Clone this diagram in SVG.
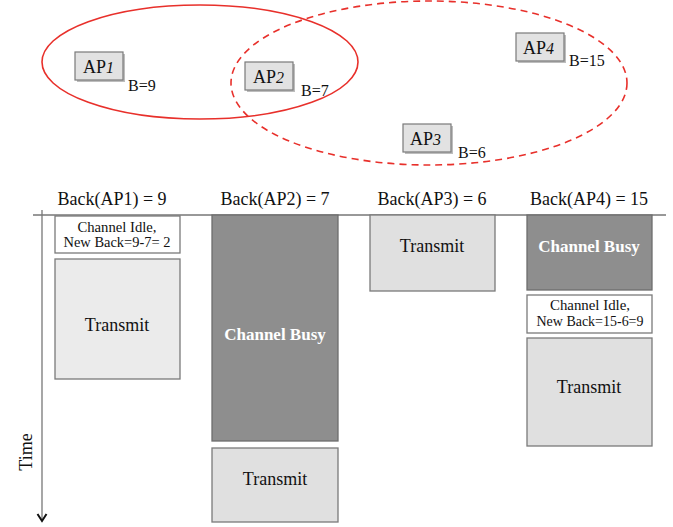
<svg xmlns="http://www.w3.org/2000/svg" width="673" height="527" viewBox="0 0 673 527">
<style>
text{font-family:"Liberation Serif","Times New Roman",serif;fill:#111}
.ap rect.b{fill:#e2e2e2;stroke:#7a7a7a;stroke-width:1.2}
.ap rect.s{fill:#bdbdbd}
.apt{font-size:18px}
.apt tspan{font-style:italic;font-size:16px}
.bl{font-size:16px}
.hd{font-size:18px;text-anchor:middle}
.tx{fill:#e0e0e0;stroke:#7a7a7a;stroke-width:1.3}
.tx1{fill:#ebebeb;stroke:#7a7a7a;stroke-width:1.3}
.busy{fill:#8e8e8e;stroke:#6e6e6e;stroke-width:1.3}
.idle{fill:#fff;stroke:#7a7a7a;stroke-width:1.3}
.lt{font-size:18px;text-anchor:middle}
.bt{font-size:17px;font-weight:bold;text-anchor:middle;fill:#fff}
.it{font-size:14px;text-anchor:middle}
</style>
<g id="ranges">
<ellipse cx="200" cy="62" rx="158" ry="57" fill="none" stroke="#e8302b" stroke-width="1.6"/>
<ellipse cx="429" cy="83" rx="198" ry="82" fill="none" stroke="#e8302b" stroke-width="1.6" stroke-dasharray="7,5"/>
</g>
<g id="ap1" class="ap"><rect class="s" x="77" y="54" width="48" height="28"/><rect class="b" x="75" y="52" width="48" height="28"/><text class="apt" x="83" y="73">AP<tspan>1</tspan></text><text class="bl" x="128" y="91">B=9</text></g>
<g id="ap2" class="ap"><rect class="s" x="247" y="64" width="48" height="28"/><rect class="b" x="245" y="62" width="48" height="28"/><text class="apt" x="253" y="83">AP<tspan>2</tspan></text><text class="bl" x="301" y="96">B=7</text></g>
<g id="ap3" class="ap"><rect class="s" x="405" y="126" width="48" height="28"/><rect class="b" x="403" y="124" width="48" height="28"/><text class="apt" x="410" y="145">AP<tspan>3</tspan></text><text class="bl" x="458" y="158">B=6</text></g>
<g id="ap4" class="ap"><rect class="s" x="518" y="35" width="48" height="28"/><rect class="b" x="516" y="33" width="48" height="28"/><text class="apt" x="523" y="54">AP<tspan>4</tspan></text><text class="bl" x="569" y="66">B=15</text></g>
<g id="headers">
<text class="hd" x="112" y="205">Back(AP1) = 9</text>
<text class="hd" x="275" y="205">Back(AP2) = 7</text>
<text class="hd" x="432" y="205">Back(AP3) = 6</text>
<text class="hd" x="589" y="205">Back(AP4) = 15</text>
</g>
<g id="axes" stroke="#333" fill="none">
<line x1="33" y1="215" x2="666" y2="215" stroke-width="1"/>
<line x1="42" y1="210" x2="42" y2="521" stroke="#777" stroke-width="1.3"/>
<polyline points="37.5,514 42,521 46.5,514" stroke="#111" stroke-width="2"/>
</g>
<text id="time" class="lt" transform="translate(32 452) rotate(-90)">Time</text>
<g id="col1">
<rect class="idle" x="55" y="216" width="125" height="37"/>
<text class="it" x="117" y="232" textLength="79" lengthAdjust="spacingAndGlyphs">Channel Idle,</text>
<text class="it" x="117" y="247" textLength="107" lengthAdjust="spacingAndGlyphs">New Back=9-7= 2</text>
<rect class="tx1" x="55" y="259" width="125" height="120"/>
<text class="lt" x="117" y="331">Transmit</text>
</g>
<g id="col2">
<rect class="busy" x="212" y="215" width="126" height="226"/>
<text class="bt" x="275" y="340">Channel Busy</text>
<rect class="tx" x="212" y="448" width="126" height="74"/>
<text class="lt" x="275" y="485">Transmit</text>
</g>
<g id="col3">
<rect class="tx" x="370" y="215" width="125" height="76"/>
<text class="lt" x="432" y="252">Transmit</text>
</g>
<g id="col4">
<rect class="busy" x="527" y="215" width="125" height="75"/>
<text class="bt" x="589" y="252">Channel Busy</text>
<rect class="idle" x="527" y="295" width="125" height="38"/>
<text class="it" x="590" y="310" textLength="80" lengthAdjust="spacingAndGlyphs">Channel Idle,</text>
<text class="it" x="590" y="326" textLength="107" lengthAdjust="spacingAndGlyphs">New Back=15-6=9</text>
<rect class="tx" x="527" y="338" width="125" height="108"/>
<text class="lt" x="589" y="393">Transmit</text>
</g>
</svg>
